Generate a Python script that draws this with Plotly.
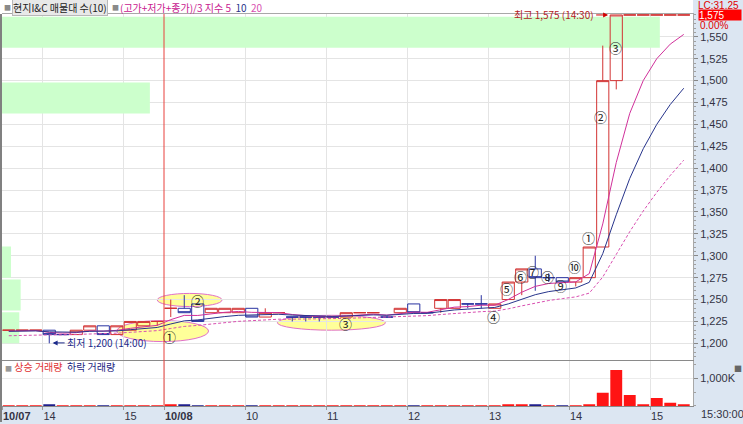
import plotly.graph_objects as go

# ---------------- data: 10-minute bars ----------------
# 10/07 13:30 .. 15:20 (12 bars), 10/08 09:00 .. 15:20 (39 bars)
opens = [1215, 1215, 1215, 1215, 1210, 1210, 1215, 1220, 1210, 1215, 1220, 1225,
         1240, 1240, 1245, 1235, 1235, 1235, 1240, 1230, 1235, 1230, 1230, 1230,
         1230, 1230, 1235, 1235, 1230, 1235, 1245, 1235, 1240, 1240, 1245, 1245,
         1240, 1250, 1270, 1285, 1275, 1275, 1270, 1275, 1310, 1500,
         1575, 1575, 1575, 1575, 1575]
highs = [1215, 1215, 1215, 1215, 1210, 1215, 1220, 1220, 1220, 1225, 1225, 1225,
         1250, 1255, 1245, 1240, 1240, 1240, 1240, 1240, 1235, 1230, 1230, 1230,
         1230, 1235, 1235, 1235, 1230, 1240, 1245, 1235, 1250, 1250, 1245, 1255,
         1245, 1270, 1285, 1300, 1280, 1275, 1275, 1310, 1540, 1575,
         1575, 1575, 1575, 1575, 1575]
lows = [1215, 1215, 1215, 1200, 1210, 1210, 1215, 1210, 1210, 1215, 1220, 1220,
        1230, 1235, 1225, 1235, 1235, 1235, 1230, 1230, 1235, 1225, 1225, 1225,
        1230, 1230, 1235, 1235, 1230, 1235, 1235, 1235, 1235, 1240, 1240, 1240,
        1240, 1250, 1255, 1260, 1270, 1270, 1265, 1275, 1310, 1490,
        1575, 1575, 1575, 1575, 1575]
closes = [1215, 1215, 1215, 1210, 1210, 1215, 1220, 1210, 1220, 1225, 1225, 1225,
          1240, 1235, 1225, 1240, 1240, 1240, 1230, 1235, 1235, 1230, 1230, 1230,
          1230, 1235, 1235, 1235, 1230, 1240, 1235, 1235, 1250, 1250, 1245, 1245,
          1245, 1270, 1285, 1275, 1275, 1270, 1275, 1310, 1500, 1575,
          1575, 1575, 1575, 1575, 1575]
volumes_k = [22, 15, 15, 30, 15, 22, 20, 22, 20, 25, 22, 20,
             30, 28, 26, 18, 15, 18, 18, 15, 15, 18, 15, 15,
             15, 18, 15, 15, 15, 20, 22, 15, 22, 20, 18, 22,
             20, 35, 55, 60, 22, 25, 25, 28, 477, 1289,
             394, 58, 290, 116, 35]

tick_index = [0, 3, 9, 12, 18, 24, 30, 36, 42, 48]
tick_labels = ["<b>10/07</b>", "14", "15", "<b>10/08</b>", "10", "11", "12", "13", "14", "15"]
price_ticks = [1200, 1225, 1250, 1275, 1300, 1325, 1350, 1375, 1400, 1425, 1450, 1475, 1500, 1525, 1550]

profile_bin_low = [1200.0, 1237.5, 1275.0, 1312.5, 1350.0, 1387.5, 1425.0, 1462.5, 1500.0, 1537.5]
profile_volume = [25, 27, 13, 0, 0, 0, 0, 214, 0, 952]

ma_periods = [5, 10, 20]
ma_seeds = [1213.5, 1213.5, 1208.0]

# ---------------- derived ----------------
n = len(closes)
xs = [i + 0.5 for i in range(n)]
typical = [(h + l + c) / 3.0 for h, l, c in zip(highs, lows, closes)]


def ema(vals, period, seed):
    a = 2.0 / (period + 1)
    e, out = seed, []
    for v in vals:
        e = e + a * (v - e)
        out.append(e)
    return out


bin_step = profile_bin_low[1] - profile_bin_low[0]
bin_gap = 2.0
profile_mid = [b + (bin_step - bin_gap) / 2 for b in profile_bin_low]

# ---------------- geometry helpers ----------------
W, H = 743, 424
ML, MR, MT, MB = 2, 50, 14, 16
PW, PH = W - ML - MR, H - MT - MB
BAR_PX = 13.5
XMAX = PW / BAR_PX


def pxx(px):
    return (px - ML) / PW


def pxy(py):
    return (H - MB - py) / PH


KR = "Noto Sans CJK KR"
NUM = "Liberation Sans Narrow, Liberation Sans, Arial"

fig = go.Figure()

# volume profile (매물대)
fig.add_trace(go.Bar(x=profile_volume, y=profile_mid, width=bin_step - bin_gap,
                     orientation="h", xaxis="x", yaxis="y",
                     marker=dict(color="#ccffcc", line=dict(width=0)),
                     hoverinfo="skip", showlegend=False))

# moving averages
ma_styles = [dict(color="#d0309a", width=1),
             dict(color="#27348b", width=1),
             dict(color="#d84fb0", width=1, dash="3px,2px")]
for p, s, st in zip(ma_periods, ma_seeds, ma_styles):
    fig.add_trace(go.Scatter(x=xs, y=ema(typical, p, s), mode="lines", line=st,
                             xaxis="x2", yaxis="y", hoverinfo="skip", showlegend=False))

# candles
fig.add_trace(go.Candlestick(
    x=xs, open=opens, high=highs, low=lows, close=closes, xaxis="x2", yaxis="y",
    increasing=dict(line=dict(color="#d23232", width=1), fillcolor="rgba(255,255,255,0)"),
    decreasing=dict(line=dict(color="#2832a0", width=1), fillcolor="rgba(255,255,255,0)"),
    whiskerwidth=0, hoverinfo="skip", showlegend=False))

# volume
vol_colors = ["#ff1414" if c >= o else "#1e1e8c" for o, c in zip(opens, closes)]
fig.add_trace(go.Bar(x=xs, y=volumes_k, width=0.88, xaxis="x3", yaxis="y2",
                     marker=dict(color=vol_colors, line=dict(width=0)),
                     hoverinfo="skip", showlegend=False))

PRICE_BOTTOM = pxy(362)
VOL_TOP = pxy(363)
grid_idx = [t for t in tick_index if t not in (0, 12)]

fig.update_layout(
    width=W, height=H, margin=dict(l=ML, r=MR, t=MT, b=MB, pad=0),
    paper_bgcolor="white", plot_bgcolor="white", showlegend=False,
    boxgap=0.1, boxgroupgap=0, bargap=0.1,
    xaxis=dict(domain=[0, 1], anchor="y", range=[0, 1000], visible=False,
               rangeslider=dict(visible=False)),
    xaxis2=dict(overlaying="x", anchor="y", range=[0, XMAX], tickmode="array",
                tickvals=grid_idx, showticklabels=False, ticks="",
                showgrid=True, gridcolor="#e4e4e4", zeroline=False,
                showline=True, linecolor="#a8a8a8", mirror=True,
                rangeslider=dict(visible=False)),
    xaxis3=dict(domain=[0, 1], anchor="y2", range=[0, XMAX], tickmode="array",
                tickvals=tick_index, ticktext=tick_labels,
                ticklabelposition="outside right", ticks="outside", ticklen=3,
                tickcolor="#9a9a9a", showgrid=True, gridcolor="#e4e4e4",
                zeroline=False, showline=True, linecolor="#8a8a8a", mirror=True,
                tickfont=dict(family=NUM, size=11, color="#333344"),
                rangeslider=dict(visible=False)),
    yaxis=dict(domain=[PRICE_BOTTOM, 1], anchor="x", side="right",
               range=[1180.7, 1576.1], tickmode="array", tickvals=price_ticks,
               tickformat=",", ticks="outside", ticklen=4, tickcolor="#888",
               showgrid=True, gridcolor="#e4e4e4", zeroline=False,
               showline=True, linecolor="#a8a8a8",
               minor=dict(tick0=1200, dtick=5, ticks="outside", ticklen=2,
                          tickcolor="#a0a0a0", showgrid=False),
               tickfont=dict(family=NUM, size=11, color="#333344")),
    yaxis2=dict(domain=[0, VOL_TOP], anchor="x3", side="right", range=[0, 1600],
                tickmode="array", tickvals=[1000], ticktext=["1,000K"],
                ticks="outside", ticklen=4, tickcolor="#888",
                showgrid=True, gridcolor="#ececec", zeroline=False,
                showline=True, linecolor="#a8a8a8",
                minor=dict(tick0=0, dtick=500, ticks="outside", ticklen=2,
                           tickcolor="#a0a0a0", showgrid=False),
                tickfont=dict(family=NUM, size=11, color="#333344")),
)

shapes = [
    # right axis panel and bottom strip
    dict(type="rect", xref="paper", yref="paper", x0=1, x1=1 + (MR + 2) / PW,
         y0=-MB / PH - 0.01, y1=1 + MT / PH + 0.01, fillcolor="#dce6f2",
         line=dict(width=0), layer="below"),
    dict(type="rect", xref="paper", yref="paper", x0=-ML / PW - 0.01, x1=1,
         y0=-MB / PH - 0.01, y1=0, fillcolor="#dce6f2", line=dict(width=0), layer="below"),
    # ellipses
    dict(type="circle", xref="x2", yref="y", x0=8.5, x1=15.3, y0=1202, y1=1226,
         fillcolor="#ffff99", line=dict(color="#e070c8", width=1), layer="below"),
    dict(type="circle", xref="x2", yref="y", x0=11.5, x1=16.3, y0=1242, y1=1257,
         fillcolor="#ffff99", line=dict(color="#e070c8", width=1), layer="below"),
    dict(type="circle", xref="x2", yref="y", x0=20.4, x1=28.4, y0=1215, y1=1232,
         fillcolor="#ffff99", line=dict(color="#e070c8", width=1), layer="below"),
    # day divider
    dict(type="line", xref="x2", yref="paper", x0=12, x1=12, y0=0, y1=1,
         line=dict(color="#e8413c", width=1), layer="above"),
    # left border
    dict(type="line", xref="paper", yref="paper", x0=-1 / PW, x1=-1 / PW,
         y0=-MB / PH, y1=1, line=dict(color="#808080", width=2), layer="above"),
]
fig.update_layout(shapes=shapes)


def paper_text(px, py, text, size=10, color="#222", family=KR, **kw):
    d = dict(x=pxx(px), y=pxy(py), xref="paper", yref="paper", xanchor="left",
             yanchor="middle", text=text, showarrow=False,
             font=dict(family=family, size=size, color=color))
    d.update(kw)
    return d


ann = []
# top legend
ann.append(paper_text(2, 7, "■", size=7, color="#8a8a8a"))
ann.append(paper_text(12, 7, "현지I&C 매물대 수(10)", bgcolor="#e8e8e8",
                      bordercolor="#b8b8b8", borderwidth=1, borderpad=0))
ann.append(paper_text(110, 7, "■", size=7, color="#8a8a8a"))
ann.append(paper_text(118, 7,
                      '<span style="color:#c8208f">(고가+저가+종가)/3 지수 5</span>'
                      '  <span style="color:#27348b">10</span>'
                      '  <span style="color:#d84fb0">20</span>'))
# volume legend
ann.append(paper_text(3, 368,
                      '<span style="color:#999;font-size:7px">■</span> '
                      '<span style="color:#e03030">상승 거래량</span>  '
                      '<span style="color:#1a237e">하락 거래량</span>'))
ann.append(paper_text(732, 370, "■", size=8, color="#666"))
# right side labels
ann.append(paper_text(696, 5, "LC:31.25", size=10, color="#e00000", family=NUM))
ann.append(dict(x=pxx(698), y=1575, xref="paper", yref="y", xanchor="left",
                yanchor="middle", text="1,575", showarrow=False, bgcolor="#ff0000",
                width=42, height=10, align="left", borderpad=0,
                font=dict(family=NUM, size=10, color="white")))
ann.append(paper_text(698, 26, "0.00%", size=10, color="#e00000", family=NUM))
ann.append(paper_text(699, 416, "15:30:00", size=11, color="#333344", family=NUM))
# high / low marks
ann.append(dict(x=44.9, y=1575, xref="x2", yref="y", ax=-12, ay=0,
                text="최고 1,575 (14:30)", xanchor="right", showarrow=True,
                arrowhead=2, arrowsize=1, arrowwidth=1, arrowcolor="#d00000",
                font=dict(family=KR, size=10, color="#b22222")))
ann.append(dict(x=3.75, y=1200.5, xref="x2", yref="y", ax=12, ay=0,
                text="최저 1,200 (14:00)", xanchor="left", showarrow=True,
                arrowhead=2, arrowsize=1, arrowwidth=1, arrowcolor="#1c2a8a",
                font=dict(family=KR, size=10, color="#1c2a8a")))
# circled markers
marks = [("①", 12.44, 1207.6), ("②", 14.47, 1249.2), ("③", 25.41, 1222.5),
         ("④", 36.39, 1231), ("⑤", 37.39, 1262.5), ("⑥", 38.37, 1276.5),
         ("⑦", 39.33, 1281.8), ("⑧", 40.37, 1276.5), ("⑨", 41.39, 1266),
         ("⑩", 42.37, 1287.5), ("①", 43.43, 1321), ("②", 44.35, 1458.7),
         ("③", 45.41, 1538)]
for t, mx, my in marks:
    ann.append(dict(x=mx, y=my, xref="x2", yref="y", text=t, showarrow=False,
                    xanchor="center", yanchor="middle",
                    font=dict(family=KR, size=13, color="#222")))
fig.update_layout(annotations=ann)

fig.write_html("out.html")
